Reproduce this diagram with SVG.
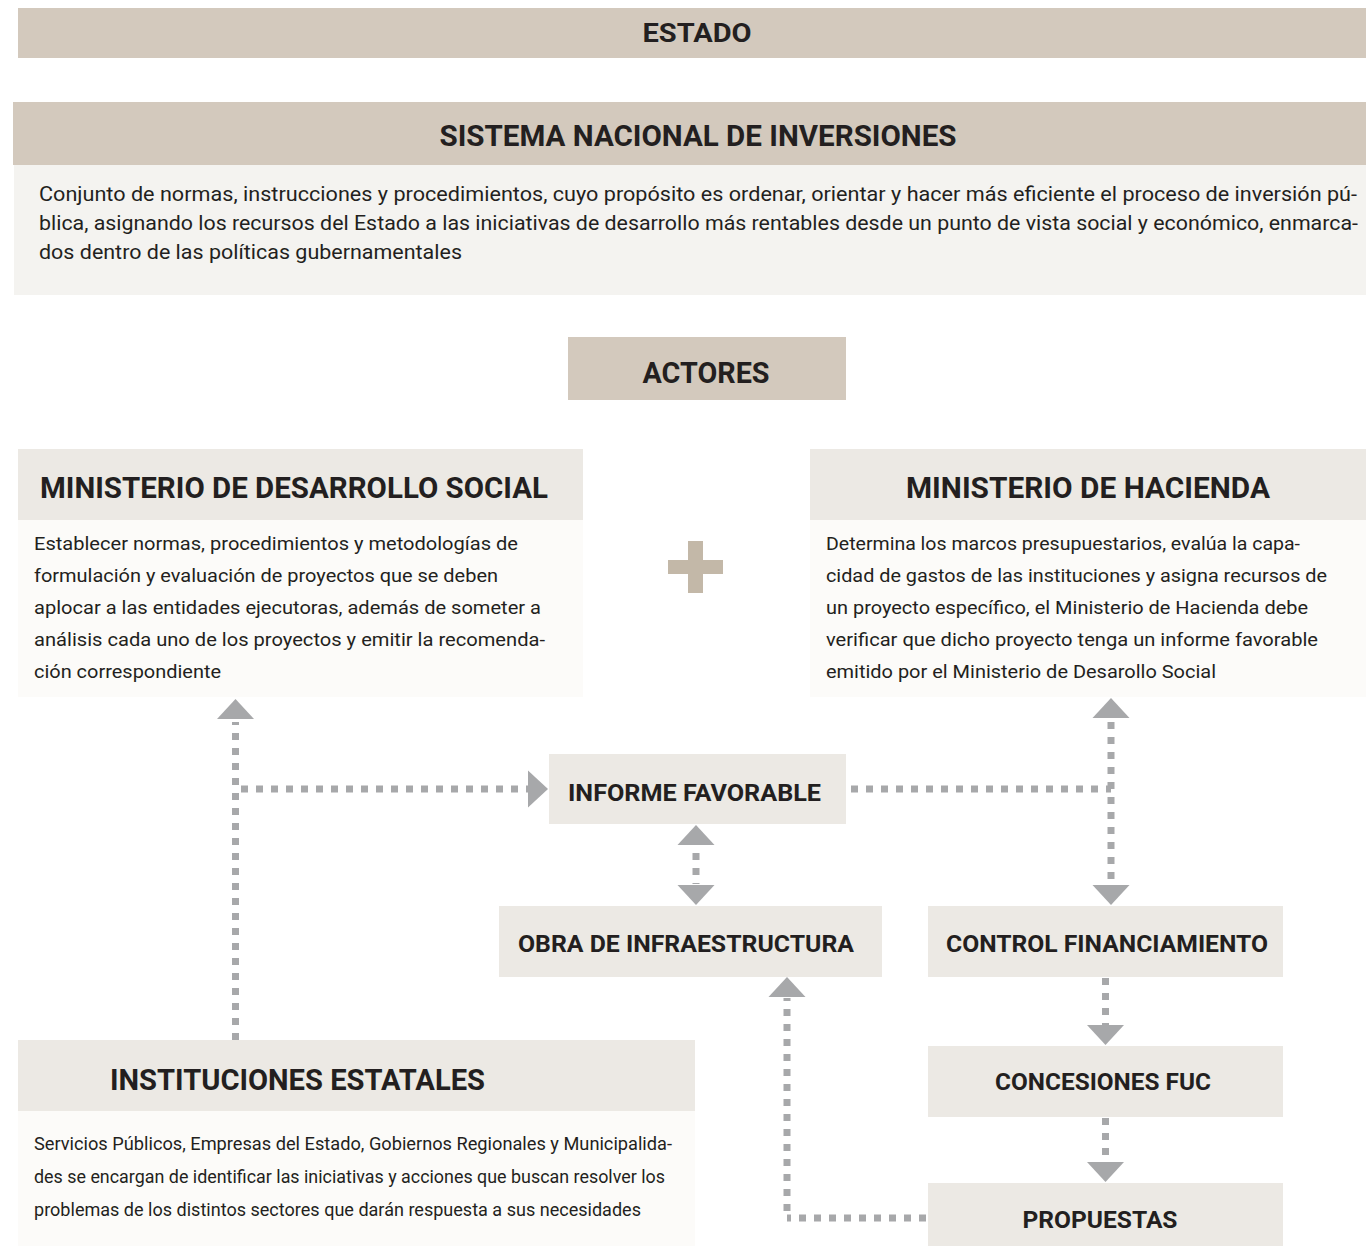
<svg xmlns="http://www.w3.org/2000/svg" xmlns:xlink="http://www.w3.org/1999/xlink" width="1366" height="1246" viewBox="0 0 1366 1246">
<defs>
<style>
.band{fill:#d3c9bd}
.head{fill:#ece9e4}
.body{fill:#fcfbf9}
.desc{fill:#f4f3f0}
.t{font-family:Roboto,"Liberation Sans",sans-serif;fill:#231f20}
.tb{font-weight:700;text-anchor:middle}
.tx{font-weight:400;font-size:19px}
.dot{stroke:#a7a8aa;stroke-width:7;stroke-dasharray:7 8;fill:none}
.plus{fill:#c3b8a8}
</style>
<polygon id="ah" points="-18.5,0 18.5,0 0,-20" fill="#a7a8aa"/>
</defs>

<g id="estado">
<rect class="band" x="18" y="8" width="1348" height="50"/>
<text class="t tb" x="697" y="42" font-size="25" textLength="109" lengthAdjust="spacingAndGlyphs">ESTADO</text>
</g>

<g id="sistema">
<rect class="band" x="13" y="102" width="1353" height="63"/>
<rect class="desc" x="14" y="165" width="1352" height="130"/>
<text class="t tb" x="698" y="146" font-size="30" textLength="517" lengthAdjust="spacingAndGlyphs">SISTEMA NACIONAL DE INVERSIONES</text>
<text class="t" font-size="21" x="39" y="201" textLength="1318" lengthAdjust="spacingAndGlyphs">Conjunto de normas, instrucciones y procedimientos, cuyo propósito es ordenar, orientar y hacer más eficiente el proceso de inversión pú-</text>
<text class="t" font-size="21" x="39" y="230" textLength="1319" lengthAdjust="spacingAndGlyphs">blica, asignando los recursos del Estado a las iniciativas de desarrollo más rentables desde un punto de vista social y económico, enmarca-</text>
<text class="t" font-size="21" x="39" y="259" textLength="423" lengthAdjust="spacingAndGlyphs">dos dentro de las políticas gubernamentales</text>
</g>

<g id="actores">
<rect class="band" x="568" y="337" width="278" height="63"/>
<text class="t tb" x="706" y="383" font-size="30" textLength="127" lengthAdjust="spacingAndGlyphs">ACTORES</text>
</g>

<g id="plus">
<rect class="plus" x="668" y="560" width="55" height="14"/>
<rect class="plus" x="688" y="541" width="15" height="52"/>
</g>

<g id="ministerio-desarrollo-social">
<rect class="head" x="18" y="449" width="565" height="71"/>
<rect class="body" x="18" y="520" width="565" height="177"/>
<text class="t tb" x="294" y="498" font-size="30" textLength="508" lengthAdjust="spacingAndGlyphs">MINISTERIO DE DESARROLLO SOCIAL</text>
<text class="t tx" x="34" y="550" textLength="484" lengthAdjust="spacingAndGlyphs">Establecer normas, procedimientos y metodologías de</text>
<text class="t tx" x="34" y="582" textLength="464" lengthAdjust="spacingAndGlyphs">formulación y evaluación de proyectos que se deben</text>
<text class="t tx" x="34" y="614" textLength="507" lengthAdjust="spacingAndGlyphs">aplocar a las entidades ejecutoras, además de someter a</text>
<text class="t tx" x="34" y="646" textLength="511" lengthAdjust="spacingAndGlyphs">análisis cada uno de los proyectos y emitir la recomenda-</text>
<text class="t tx" x="34" y="678" textLength="187" lengthAdjust="spacingAndGlyphs">ción correspondiente</text>
</g>

<g id="ministerio-hacienda">
<rect class="head" x="810" y="449" width="556" height="71"/>
<rect class="body" x="810" y="520" width="556" height="177"/>
<text class="t tb" x="1088" y="498" font-size="30" textLength="364" lengthAdjust="spacingAndGlyphs">MINISTERIO DE HACIENDA</text>
<text class="t tx" x="826" y="550" textLength="474" lengthAdjust="spacingAndGlyphs">Determina los marcos presupuestarios, evalúa la capa-</text>
<text class="t tx" x="826" y="582" textLength="501" lengthAdjust="spacingAndGlyphs">cidad de gastos de las instituciones y asigna recursos de</text>
<text class="t tx" x="826" y="614" textLength="482" lengthAdjust="spacingAndGlyphs">un proyecto específico, el Ministerio de Hacienda debe</text>
<text class="t tx" x="826" y="646" textLength="492" lengthAdjust="spacingAndGlyphs">verificar que dicho proyecto tenga un informe favorable</text>
<text class="t tx" x="826" y="678" textLength="390" lengthAdjust="spacingAndGlyphs">emitido por el Ministerio de Desarollo Social</text>
</g>

<g id="informe-favorable">
<rect class="head" x="549" y="754" width="297" height="70"/>
<text class="t tb" x="694.5" y="801" font-size="24" textLength="253" lengthAdjust="spacingAndGlyphs">INFORME FAVORABLE</text>
</g>

<g id="obra-infraestructura">
<rect class="head" x="499" y="906" width="383" height="71"/>
<text class="t tb" x="686" y="952" font-size="24" textLength="336" lengthAdjust="spacingAndGlyphs">OBRA DE INFRAESTRUCTURA</text>
</g>

<g id="control-financiamiento">
<rect class="head" x="928" y="906" width="355" height="71"/>
<text class="t tb" x="1107" y="952" font-size="24" textLength="322" lengthAdjust="spacingAndGlyphs">CONTROL FINANCIAMIENTO</text>
</g>

<g id="concesiones-fuc">
<rect class="head" x="928" y="1046" width="355" height="71"/>
<text class="t tb" x="1103" y="1090" font-size="24" textLength="216" lengthAdjust="spacingAndGlyphs">CONCESIONES FUC</text>
</g>

<g id="propuestas">
<rect class="head" x="928" y="1183" width="355" height="63"/>
<text class="t tb" x="1100" y="1228" font-size="24" textLength="155" lengthAdjust="spacingAndGlyphs">PROPUESTAS</text>
</g>

<g id="instituciones-estatales">
<rect class="head" x="18" y="1040" width="677" height="71"/>
<rect class="body" x="18" y="1111" width="677" height="135"/>
<text class="t tb" x="297.5" y="1090" font-size="30" textLength="375" lengthAdjust="spacingAndGlyphs">INSTITUCIONES ESTATALES</text>
<text class="t" font-size="18" x="34" y="1150" textLength="638" lengthAdjust="spacingAndGlyphs">Servicios Públicos, Empresas del Estado, Gobiernos Regionales y Municipalida-</text>
<text class="t" font-size="18" x="34" y="1183" textLength="631" lengthAdjust="spacingAndGlyphs">des se encargan de identificar las iniciativas y acciones que buscan resolver los</text>
<text class="t" font-size="18" x="34" y="1216" textLength="607" lengthAdjust="spacingAndGlyphs">problemas de los distintos sectores que darán respuesta a sus necesidades</text>
</g>

<g id="connectors">
<line class="dot" x1="235.5" y1="1040" x2="235.5" y2="722"/>
<use xlink:href="#ah" transform="translate(235.5,719)"/>
<line class="dot" x1="241" y1="789" x2="528" y2="789"/>
<use xlink:href="#ah" transform="translate(528,789) rotate(90)"/>

<line class="dot" x1="696" y1="853" x2="696" y2="884"/>
<use xlink:href="#ah" transform="translate(696,845)"/>
<use xlink:href="#ah" transform="translate(696,885) rotate(180)"/>

<line class="dot" x1="851" y1="789" x2="1111" y2="789"/>
<line class="dot" x1="1111" y1="722" x2="1111" y2="885"/>
<use xlink:href="#ah" transform="translate(1111,718)"/>
<use xlink:href="#ah" transform="translate(1111,885) rotate(180)"/>

<line class="dot" x1="1105.5" y1="978" x2="1105.5" y2="1025"/>
<use xlink:href="#ah" transform="translate(1105.5,1025) rotate(180)"/>

<line class="dot" x1="1105.5" y1="1118" x2="1105.5" y2="1163"/>
<use xlink:href="#ah" transform="translate(1105.5,1162) rotate(180)"/>

<line class="dot" x1="926" y1="1218" x2="787" y2="1218"/>
<line class="dot" x1="787" y1="1211" x2="787" y2="998"/>
<use xlink:href="#ah" transform="translate(787,997)"/>
</g>
</svg>
